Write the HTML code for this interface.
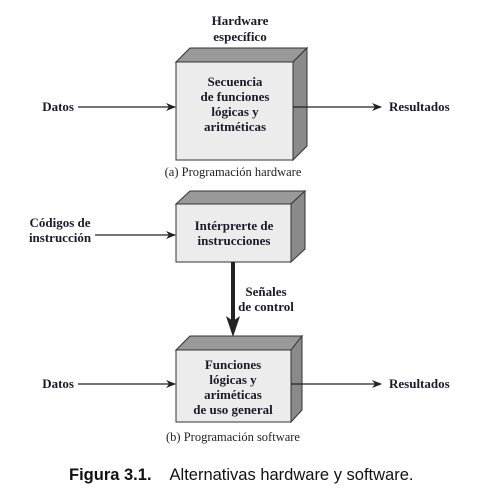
<!DOCTYPE html>
<html><head><meta charset="utf-8"><style>
html,body{margin:0;padding:0;background:#fff}
svg{display:block}
.b{font-family:"Liberation Serif",serif;font-weight:bold;font-size:13px;fill:#1a1a2a}
.r{font-family:"Liberation Serif",serif;font-size:12.5px;fill:#222}
.c{font-family:"Liberation Sans",sans-serif;font-size:16.5px;fill:#111}
</style></head><body>
<svg width="496" height="494" viewBox="0 0 496 494" xmlns="http://www.w3.org/2000/svg">
<defs>
<marker id="a" markerWidth="10" markerHeight="8" refX="9" refY="4" orient="auto" markerUnits="userSpaceOnUse">
<path d="M0,0 L10,4 L0,8 L3,4 z" fill="#222"/></marker>
</defs>
<g stroke="#333" stroke-width="1">
<polygon points="176,62 190,48 307,48 293,62" fill="#999"/>
<polygon points="293,62 307,48 307,146 293,160" fill="#8a8a8a"/>
<rect x="176" y="62" width="117" height="98" fill="#ececec"/>
</g>
<text class="b" text-anchor="middle" x="240" y="25">Hardware</text>
<text class="b" text-anchor="middle" x="240" y="41">específico</text>
<text class="b" text-anchor="middle" x="235" y="86">Secuencia</text>
<text class="b" text-anchor="middle" x="235" y="101">de funciones</text>
<text class="b" text-anchor="middle" x="235" y="116">lógicas y</text>
<text class="b" text-anchor="middle" x="235" y="131">aritméticas</text>
<line x1="78" y1="107" x2="175" y2="107" stroke="#222" stroke-width="1.3" marker-end="url(#a)"/>
<line x1="293" y1="107" x2="381" y2="107" stroke="#222" stroke-width="1.3" marker-end="url(#a)"/>
<text class="b" text-anchor="end" x="74" y="111">Datos</text>
<text class="b" x="389" y="111">Resultados</text>
<text class="r" text-anchor="middle" x="233" y="176">(a) Programación hardware</text>
<g stroke="#333" stroke-width="1">
<polygon points="176,204 190,191 305,191 291,204" fill="#999"/>
<polygon points="291,204 305,191 305,249 291,262" fill="#8a8a8a"/>
<rect x="176" y="204" width="115" height="58" fill="#ececec"/>
</g>
<text class="b" text-anchor="middle" x="234" y="230">Intérprerte de</text>
<text class="b" text-anchor="middle" x="234" y="245">instrucciones</text>
<line x1="95" y1="235" x2="175" y2="235" stroke="#222" stroke-width="1.3" marker-end="url(#a)"/>
<text class="b" text-anchor="middle" x="60" y="227">Códigos de</text>
<text class="b" text-anchor="middle" x="60" y="242">instrucción</text>
<line x1="233" y1="262" x2="233" y2="322" stroke="#222" stroke-width="4"/>
<polygon points="226,316 233,337 240,316 233,321" fill="#222"/>
<text class="b" text-anchor="middle" x="266" y="296">Señales</text>
<text class="b" text-anchor="middle" x="266" y="311">de control</text>
<g stroke="#333" stroke-width="1">
<polygon points="176,350 190,336 302,336 291,350" fill="#999"/>
<polygon points="291,350 302,336 302,410 291,422" fill="#8a8a8a"/>
<rect x="176" y="350" width="115" height="72" fill="#ececec"/>
</g>
<text class="b" text-anchor="middle" x="233" y="369">Funciones</text>
<text class="b" text-anchor="middle" x="233" y="384">lógicas y</text>
<text class="b" text-anchor="middle" x="233" y="399">ariméticas</text>
<text class="b" text-anchor="middle" x="233" y="414">de uso general</text>
<line x1="78" y1="384" x2="175" y2="384" stroke="#222" stroke-width="1.3" marker-end="url(#a)"/>
<line x1="291" y1="384" x2="381" y2="384" stroke="#222" stroke-width="1.3" marker-end="url(#a)"/>
<text class="b" text-anchor="end" x="74" y="388">Datos</text>
<text class="b" x="389" y="388">Resultados</text>
<text class="r" text-anchor="middle" x="233" y="441">(b) Programación software</text>
<text class="c" x="69" y="480"><tspan font-weight="bold">Figura 3.1.</tspan><tspan dx="18">Alternativas hardware y software.</tspan></text>
</svg>
</body></html>
